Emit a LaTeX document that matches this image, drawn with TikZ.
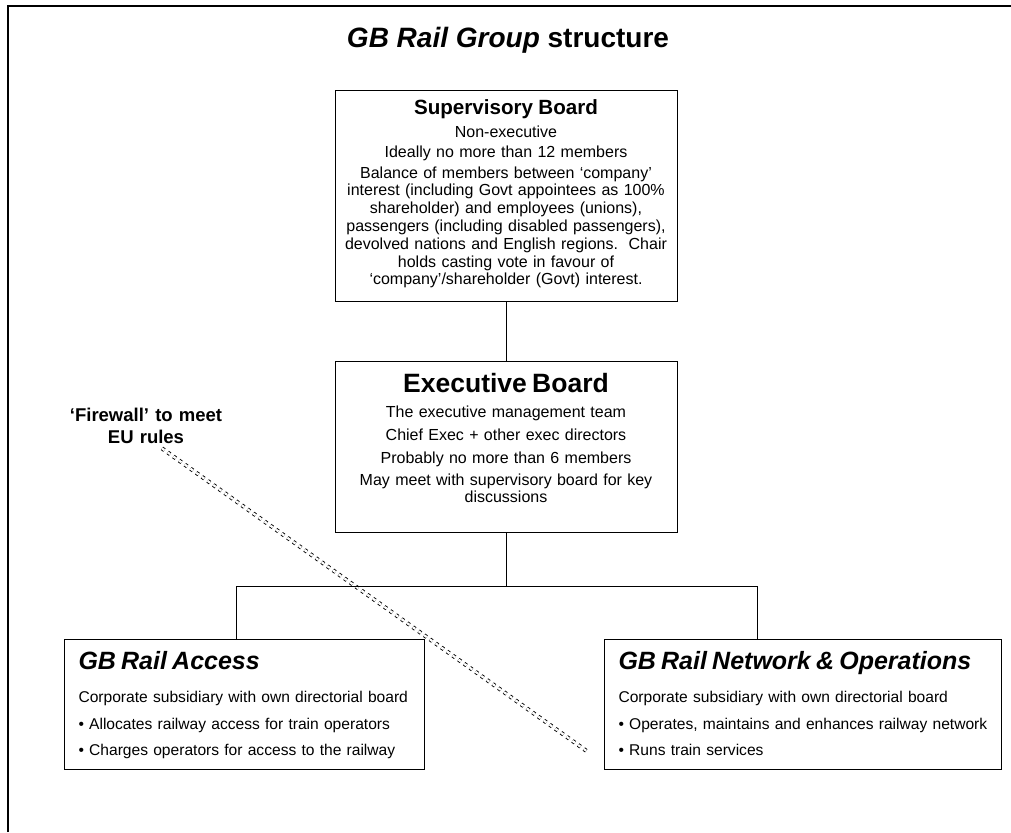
\documentclass[tikz,border=0pt]{standalone}
\usepackage{fontspec}
\setmainfont{Liberation Sans}

\begin{document}
\begin{tikzpicture}[x=1pt, y=-1pt,
    board/.style={draw, line width=1pt, inner xsep=0pt, inner ysep=0pt,
      align=center, text width=342pt},
    subsid/.style={draw, line width=1pt, inner xsep=14pt, inner ysep=0pt,
      align=left, font=\fontsize{15.6}{17.5}\selectfont},
    link/.style={line width=1pt},
    firewall/.style={double, double distance=2.2pt, line width=0.9pt,
      dash pattern=on 3pt off 4pt}]
  \useasboundingbox (0,0) rectangle (1011,832);
  \draw[line width=2pt] (8,832) -- (8,6.5) -- (1011,6.5);

  \node[font=\fontsize{28}{32}\selectfont\bfseries, anchor=base] (title) at (508,48)
    {{\itshape GB Rail Group\/} structure};

  \node[board, font=\fontsize{16}{17.8}\selectfont, text height=24pt,
        text depth=186pt, anchor=base] (sup) at (506,115)
    {{\fontsize{20.6}{22}\selectfont\bfseries Supervisory Board}\\[4.2pt]
     Non-executive\\[2.2pt]
     Ideally no more than 12 members\\[3.2pt]
     Balance of members between ‘company’\\
     interest (including Govt appointees as 100\%\\
     shareholder) and employees (unions),\\
     passengers (including disabled passengers),\\
     devolved nations and English regions.\ \ Chair\\
     holds casting vote in favour of\\
     ‘company’/shareholder (Govt) interest.};

  \node[board, font=\fontsize{16}{17.5}\selectfont, text height=31pt,
        text depth=140pt, anchor=base] (exec) at (506,392)
    {{\fontsize{26.5}{30}\selectfont\bfseries Executive Board}\\[7.5pt]
     The executive management team\\[5.5pt]
     Chief Exec + other exec directors\\[5.5pt]
     Probably no more than 6 members\\[4.5pt]
     May meet with supervisory board for key\\
     discussions};

  \node[subsid, text width=332pt, text height=30pt, text depth=100pt,
        anchor=base west] (acc) at (64,669)
    {{\fontsize{25}{28}\selectfont\bfseries\itshape GB Rail Access}\\[15.5pt]
     \mbox{Corporate subsidiary with own directorial board}\\[9.5pt]
     \mbox{• Allocates railway access for train operators}\\[8.5pt]
     \mbox{• Charges operators for access to the railway}};

  \node[subsid, text width=369pt, text height=30pt, text depth=100pt,
        anchor=base west] (net) at (604,669)
    {{\fontsize{25}{28}\selectfont\bfseries\itshape GB Rail Network \& Operations}\\[15.5pt]
     \mbox{Corporate subsidiary with own directorial board}\\[9.5pt]
     \mbox{• Operates, maintains and enhances railway network}\\[8.5pt]
     \mbox{• Runs train services}};

  \node[font=\fontsize{18.5}{22}\selectfont\bfseries, align=center, text width=170pt,
        inner sep=0pt, anchor=base] (fw) at (146,421)
    {‘Firewall’ to meet\\EU rules};

  \coordinate (busL) at (236,586);
  \coordinate (busR) at (757,586);
  \coordinate (fwend) at (588,752);

  \draw[firewall] (fw.south) ++(16,5) -- (fwend);

  \draw[link] (sup) -- (exec);
  \draw[link] (exec.south) -- (exec.south |- busL);
  \draw[link] (acc.north -| busL) -- (busL) -- (busR) -- (net.north -| busR);
\end{tikzpicture}
\end{document}
